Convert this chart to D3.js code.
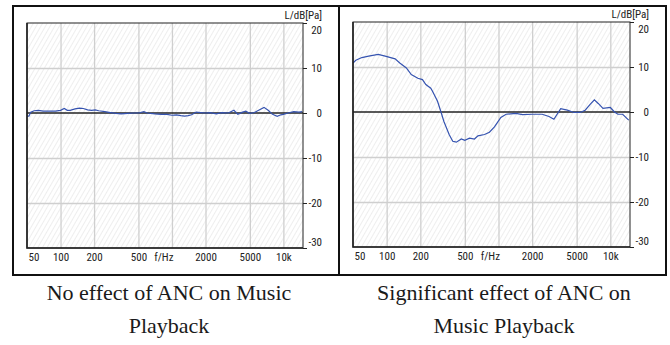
<!DOCTYPE html>
<html>
<head>
<meta charset="utf-8">
<script src="https://cdn.jsdelivr.net/npm/d3@7"></script>
<style>
  body { margin: 0; background: #fff; }
  svg { display: block; }
  .tick-label { font-family: "Roboto Condensed", "Liberation Sans", Arial; font-size: 11px; fill: #222; }
  .caption { font-family: "Liberation Serif", "Times New Roman"; font-size: 22px; fill: #1a1a1a; }
</style>
</head>
<body>
<svg id="chart" width="670" height="345"></svg>
<script>
// frequency ticks (Hz) and their labels
const freqTicks = [50, 100, 200, 500, 1000, 2000, 5000, 10000];
const freqLabels = ["50", "100", "200", "500", "f/Hz", "2000", "5000", "10k"];
const dbTicks = [20, 10, 0, -10, -20, -30];

// left panel: no effect of ANC
const leftFreq = [50, 52, 54, 58, 63, 70, 80, 90, 100, 108, 115, 122, 135, 148, 160, 175, 190, 205, 220, 250,
  280, 315, 350, 400, 450, 500, 560, 600, 700, 800, 900, 1000, 1100, 1200, 1300, 1400, 1500, 1650, 1800, 2000,
  2200, 2500, 2800, 3200, 3600, 3900, 4300, 4600, 5000, 5500, 6000, 6700, 7300, 8000, 8800, 9500, 10000,
  11000, 12400, 13800, 14800];
const leftDb = [-0.7, -0.7, 0.2, 0.5, 0.6, 0.4, 0.4, 0.4, 0.6, 1.0, 0.6, 0.6, 0.9, 1.1, 1.0, 0.7, 0.6, 0.7, 0.5, 0.3,
  0.1, -0.1, -0.2, -0.1, 0.0, 0.0, 0.3, 0.0, -0.2, -0.3, -0.3, -0.5, -0.4, -0.6, -0.7, -0.6, -0.4, 0.2, 0.1, 0.0,
  0.1, -0.2, 0.1, 0.0, 0.6, -0.3, 0.2, 0.4, -0.1, 0.1, 0.6, 1.25, 0.6, -0.3, -0.75, -0.4, -0.3,
  0.0, 0.3, 0.2, 0.3];

// right panel: significant effect of ANC
const rightFreq = [50, 53, 60, 69, 84, 97, 119, 131, 150, 166, 190, 209, 224, 248, 257, 285, 306, 325, 362, 390,
  420, 465, 500, 550, 610, 655, 750, 830, 920, 1050, 1170, 1430, 1640, 2010, 2460, 2830, 3130, 3600, 4130,
  4720, 5380, 5960, 6600, 7200, 7800, 8600, 10000, 10900, 11700, 12900, 14600];
const rightDb = [10.9, 11.5, 12.1, 12.4, 12.8, 12.4, 11.8, 10.9, 9.8, 8.3, 7.5, 7.2, 6.1, 5.3, 4.6, 2.4, 0.0, -2.1, -5.0, -6.5,
  -6.7, -6.0, -6.3, -5.8, -6.0, -5.3, -5.0, -4.5, -3.3, -1.2, -0.5, -0.3, -0.6, -0.5, -0.5, -1.0, -1.6, 0.75, 0.4,
  -0.1, -0.1, 0.4, 1.7, 2.7, 1.9, 0.8, 1.0, 0.0, -0.5, -0.5, -1.8];

const captions = [
  ["No effect of ANC on Music", "Playback"],
  ["Significant effect of ANC on", "Music Playback"]
];

const svg = d3.select("#chart");

// hatching of the plot background
const defs = svg.append("defs");
defs.append("pattern")
  .attr("id", "hatch")
  .attr("patternUnits", "userSpaceOnUse")
  .attr("width", 4).attr("height", 4)
  .attr("patternTransform", "rotate(30)")
  .append("line")
  .attr("x1", 0).attr("y1", 0).attr("x2", 0).attr("y2", 4)
  .attr("stroke", "#d6d6d6").attr("stroke-width", 0.8);

// outer box and divider
svg.append("rect")
  .attr("x", 13).attr("y", 6).attr("width", 653).attr("height", 269)
  .attr("fill", "none").attr("stroke", "#111").attr("stroke-width", 2);
svg.append("line")
  .attr("x1", 339).attr("x2", 339).attr("y1", 6).attr("y2", 275)
  .attr("stroke", "#111").attr("stroke-width", 2);

const panels = [
  { left: 27, right: 303, top: 23, bottom: 248, freq: leftFreq, db: leftDb, cx: 169 },
  { left: 353, right: 630, top: 22, bottom: 247, freq: rightFreq, db: rightDb, cx: 504 }
];

panels.forEach((p, i) => {
  const x = d3.scaleLog().domain([50, 15000]).range([p.left, p.right]);
  const y = d3.scaleLinear().domain([-30, 20]).range([p.bottom, p.top]);
  const g = svg.append("g");

  g.append("rect")
    .attr("x", p.left).attr("y", p.top)
    .attr("width", p.right - p.left).attr("height", p.bottom - p.top)
    .attr("fill", "url(#hatch)");

  // grid
  const xGrid = g.append("g")
    .attr("transform", `translate(0,${p.bottom})`)
    .call(d3.axisBottom(x).tickValues(freqTicks.slice(1)).tickSize(-(p.bottom - p.top)).tickFormat(""));
  const yGrid = g.append("g")
    .attr("transform", `translate(${p.left},0)`)
    .call(d3.axisLeft(y).tickValues([10, -10, -20]).tickSize(-(p.right - p.left)).tickFormat(""));
  [xGrid, yGrid].forEach(a => {
    a.select(".domain").remove();
    a.selectAll("line").attr("stroke", "#cfcfcf").attr("stroke-width", 1.3);
  });

  // zero line
  g.append("line")
    .attr("x1", p.left).attr("x2", p.right)
    .attr("y1", y(0)).attr("y2", y(0))
    .attr("stroke", "#222").attr("stroke-width", 1.6);

  // curve
  const line = d3.line()
    .x((d, k) => x(p.freq[k]))
    .y(d => y(d));
  g.append("path")
    .datum(p.db)
    .attr("d", line)
    .attr("fill", "none")
    .attr("stroke", "#3553b0")
    .attr("stroke-width", 1.2);

  // frame
  g.append("rect")
    .attr("x", p.left).attr("y", p.top)
    .attr("width", p.right - p.left).attr("height", p.bottom - p.top)
    .attr("fill", "none").attr("stroke", "#222").attr("stroke-width", 1);
  g.append("path")
    .attr("d", `M${p.left},${p.top}V${p.bottom}H${p.right}`)
    .attr("fill", "none").attr("stroke", "#222").attr("stroke-width", 1.6);

  // x axis labels
  const xAxis = g.append("g")
    .attr("transform", `translate(0,${p.bottom})`)
    .call(d3.axisBottom(x).tickValues(freqTicks).tickSize(0).tickPadding(5)
      .tickFormat((d, k) => freqLabels[k]));
  xAxis.select(".domain").remove();
  xAxis.selectAll("text")
    .attr("class", "tick-label")
    .attr("text-anchor", (d, k) => k === 0 ? "start" : k === 4 ? "end" : "middle")
    .attr("dx", (d, k) => k === 0 ? 1 : k === 4 ? 1 : 0);

  // y axis on the right
  const yAxis = g.append("g")
    .attr("transform", `translate(${p.right},0)`)
    .call(d3.axisRight(y).tickValues(dbTicks).tickSize(4).tickPadding(15)
      .tickFormat(d => String(d)));
  yAxis.select(".domain").remove();
  yAxis.selectAll("line").attr("stroke", "#222");
  yAxis.selectAll("text")
    .attr("class", "tick-label")
    .attr("text-anchor", "end")
    .attr("dy", d => d === 20 ? "0.95em" : d === -30 ? "-0.2em" : "0.32em");

  g.append("text")
    .attr("class", "tick-label")
    .attr("x", p.right + 19).attr("y", p.top - 4)
    .attr("text-anchor", "end")
    .text("L/dB[Pa]");

  // caption
  captions[i].forEach((t, k) => {
    svg.append("text")
      .attr("class", "caption")
      .attr("x", p.cx).attr("y", 300 + k * 33)
      .attr("text-anchor", "middle")
      .text(t);
  });
});
</script>
</body>
</html>
